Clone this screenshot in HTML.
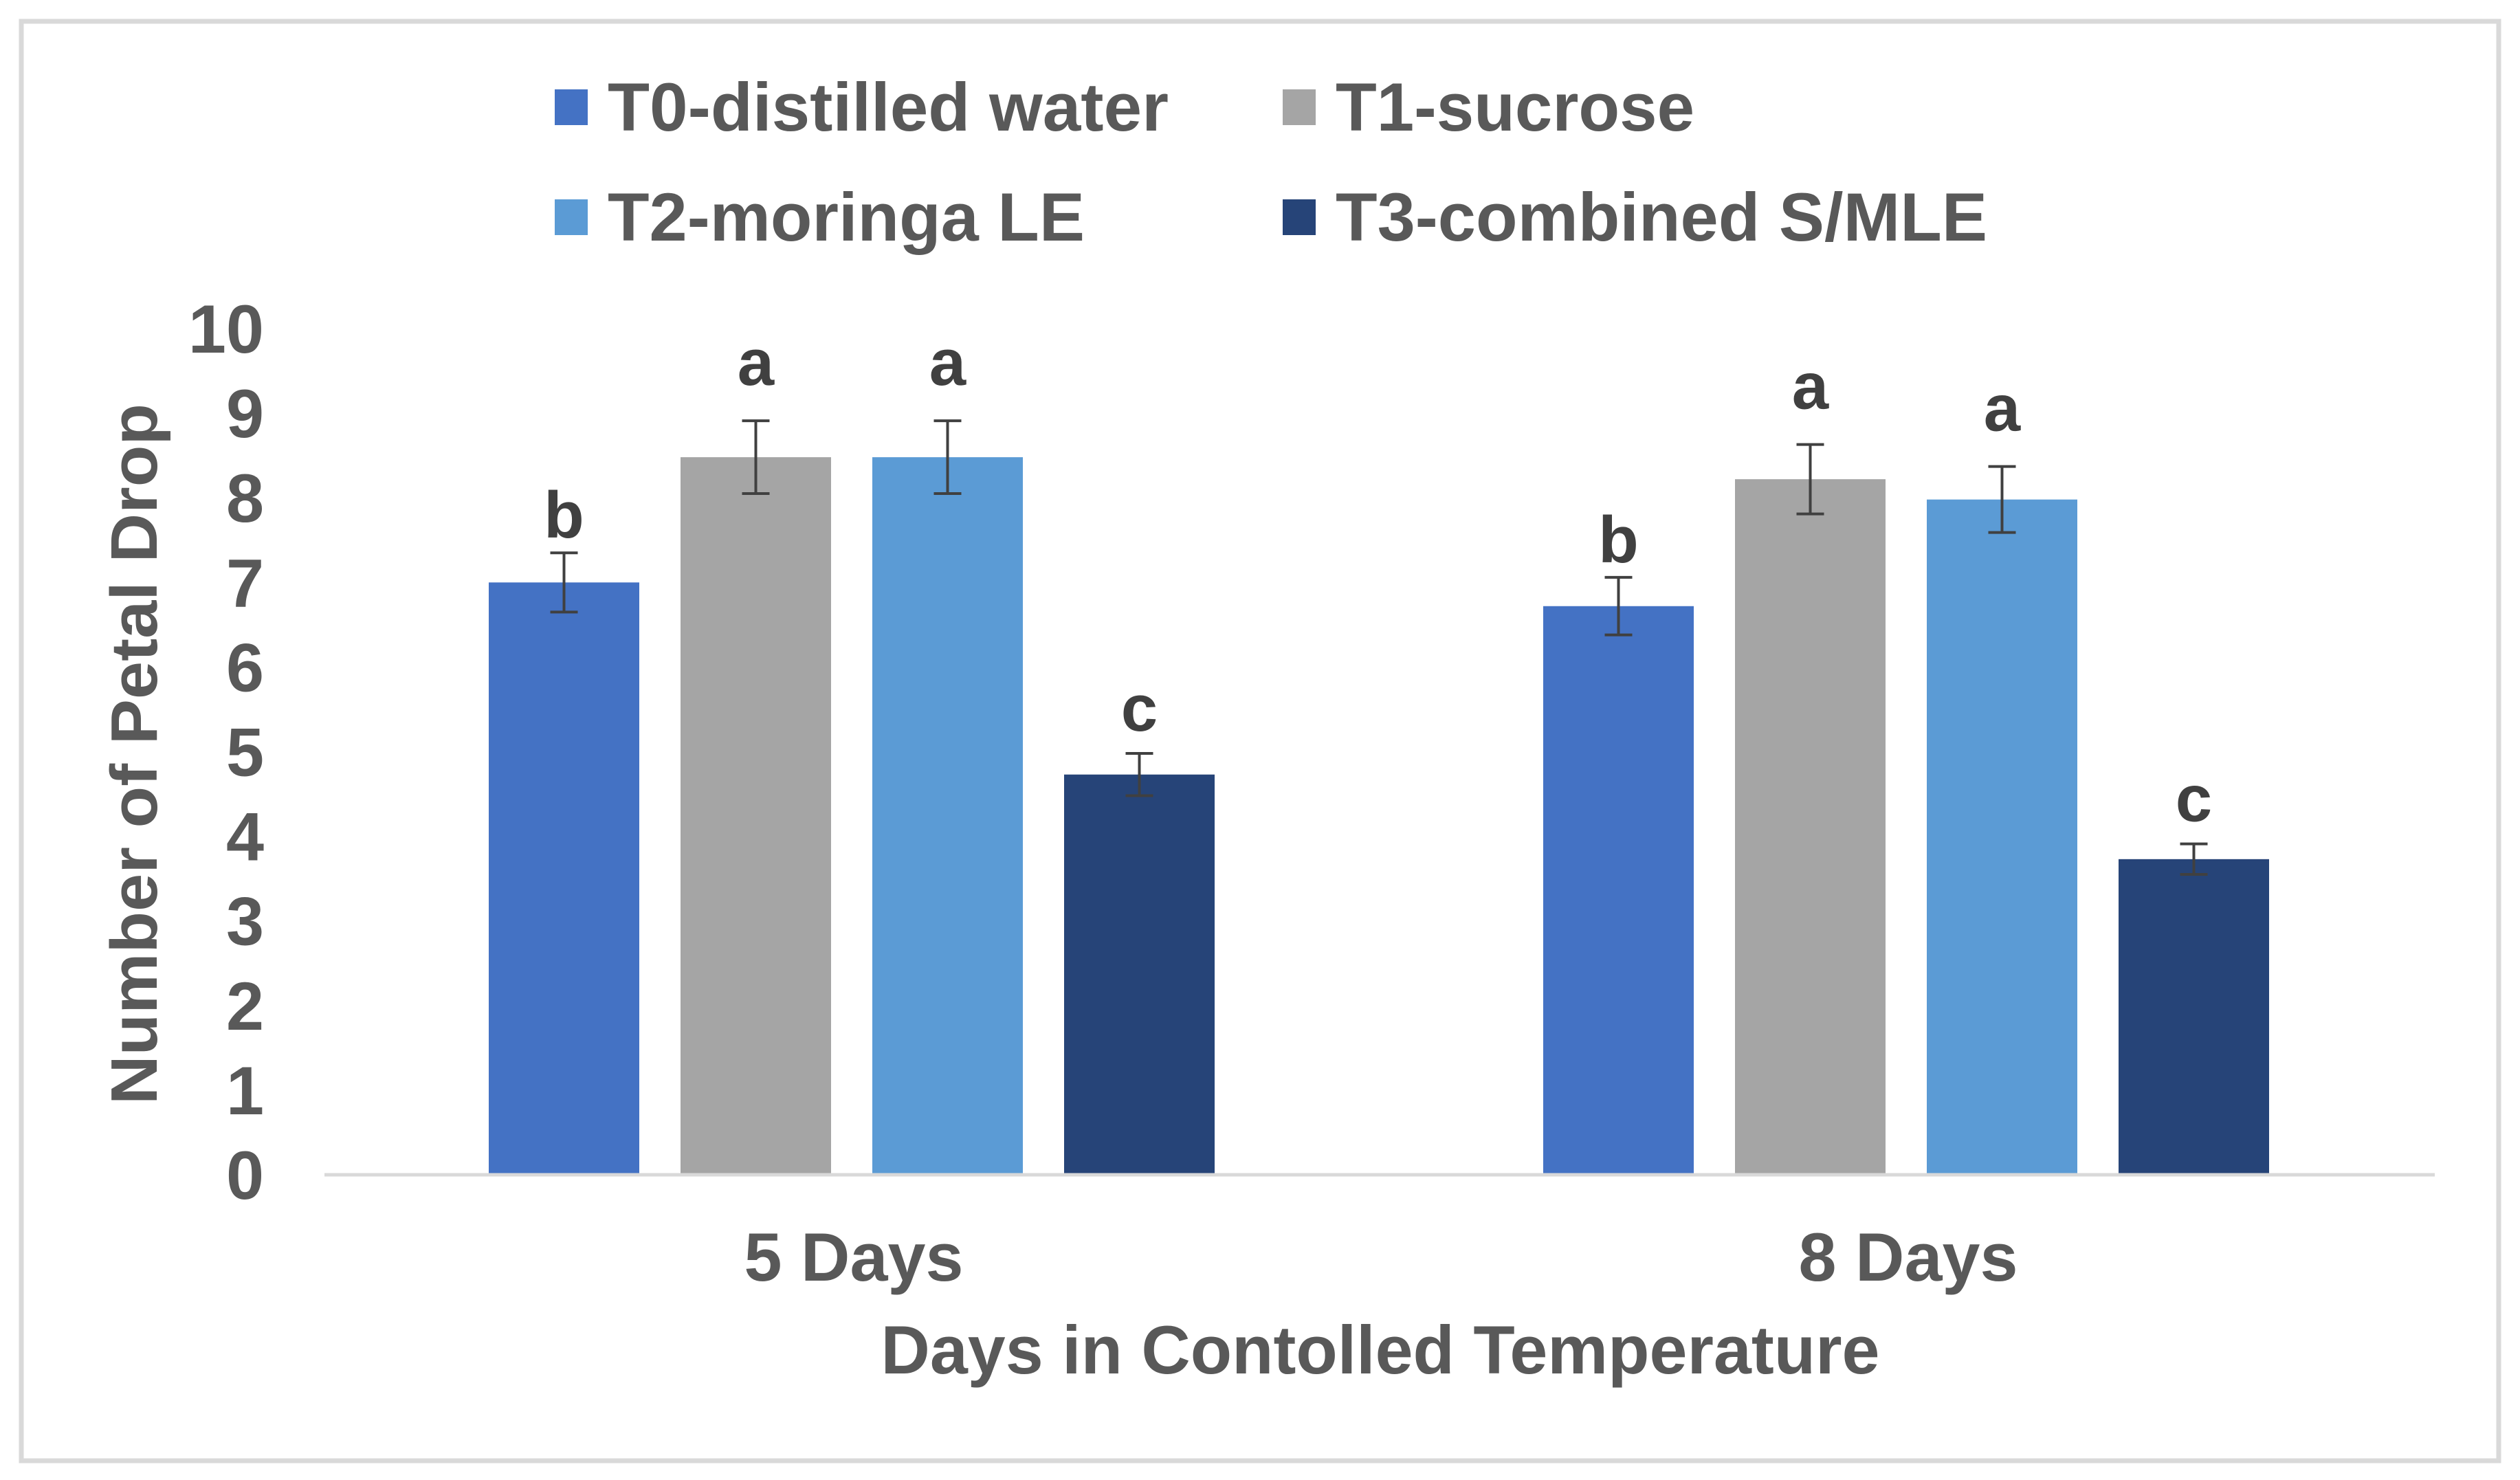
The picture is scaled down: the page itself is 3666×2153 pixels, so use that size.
<!DOCTYPE html>
<html><head><meta charset="utf-8"><style>
html,body{margin:0;padding:0;background:#fff}
svg{display:block}
text{font-family:"Liberation Sans",Arial,sans-serif;font-weight:bold;fill:#595959}
</style></head><body>
<svg id="chart" width="3666" height="2153" viewBox="0 0 3666 2153" xmlns="http://www.w3.org/2000/svg">
<rect x="31" y="31" width="3604" height="2094" fill="#fff" stroke="#d9d9d9" stroke-width="7"/>
<g id="legend"></g>
<g id="yaxis"></g>
<g id="bars"></g>
<line x1="472" y1="1709" x2="3542" y2="1709" stroke="#d9d9d9" stroke-width="5"/>
<g id="xaxis"></g>
<text transform="translate(228,1097) rotate(-90)" text-anchor="middle" font-size="96" textLength="1020" lengthAdjust="spacingAndGlyphs">Number of Petal Drop</text>
<text x="2008" y="1998" text-anchor="middle" font-size="99" textLength="1453" lengthAdjust="spacingAndGlyphs">Days in Contolled Temperature</text>
</svg>
<script>
const categories = ["5 Days", "8 Days"];
const seriesNames = ["T0-distilled water", "T1-sucrose", "T2-moringa LE", "T3-combined S/MLE"];
const t0Values = [7.0, 6.72];
const t1Values = [8.48, 8.22];
const t2Values = [8.48, 7.98];
const t3Values = [4.73, 3.73];
const t0Errors = [0.35, 0.34];
const t1Errors = [0.43, 0.41];
const t2Errors = [0.43, 0.39];
const t3Errors = [0.25, 0.18];
const t0Letters = ["b", "b"];
const t1Letters = ["a", "a"];
const t2Letters = ["a", "a"];
const t3Letters = ["c", "c"];
const yTicks = [0,1,2,3,4,5,6,7,8,9,10];

const NS = "http://www.w3.org/2000/svg";
const colors = ["#4472c4","#a5a5a5","#5b9bd5","#264478"];
const values = [t0Values,t1Values,t2Values,t3Values];
const errors = [t0Errors,t1Errors,t2Errors,t3Errors];
const letters = [t0Letters,t1Letters,t2Letters,t3Letters];
const letterGap = {a:52,b:22,c:33};
const y0 = 1709, unit = 123.1;
function yScale(v){ return y0 - v*unit; }
const groupCenters = [1239, 2773];
const pitch = 279, barW = 219;
function xBar(ci, si){ return groupCenters[ci] + (si-1.5)*pitch - barW/2; }
function mk(tag, attrs, parent){ const e=document.createElementNS(NS,tag); for(const k in attrs) e.setAttribute(k,attrs[k]); parent.appendChild(e); return e; }

const yaxis = document.getElementById('yaxis');
yTicks.forEach(t=>{
  const e = mk('text',{x:384,y:yScale(t)+35,'text-anchor':'end','font-size':99},yaxis);
  
  
  e.textContent = t;
});

const bars = document.getElementById('bars');
categories.forEach((c,ci)=>{
  values.forEach((vals,si)=>{
    const v = vals[ci], x = xBar(ci,si), cx = x+barW/2;
    const r = mk('rect',{x:x,y:yScale(v),width:barW,height:y0-yScale(v),fill:colors[si]},bars);
    
    
    const e = errors[si][ci], top = yScale(v+e), bot = yScale(v-e);
    const eb = mk('path',{d:`M${cx},${top}V${bot}M${cx-20},${top}H${cx+20}M${cx-20},${bot}H${cx+20}`,stroke:'#404040','stroke-width':4,fill:'none'},bars);
    
    
    const lt = letters[si][ci];
    const l = mk('text',{x:cx,y:top-(letterGap[lt]||35),'text-anchor':'middle','font-size':96},bars);
    
    
    l.style.fill='#404040';
    l.textContent = lt;
  });
});

const xaxis = document.getElementById('xaxis');
categories.forEach((c,ci)=>{
  const e = mk('text',{x:groupCenters[ci]+3,y:1863,'text-anchor':'middle','font-size':99,textLength:319,lengthAdjust:'spacingAndGlyphs'},xaxis);
  
  
  e.textContent = c;
});

const legend = document.getElementById('legend');
const legPos = [[807,884,190,816],[1866,1943,190,522],[807,884,350,694],[1866,1943,350,948]];
seriesNames.forEach((n,i)=>{
  const p = legPos[i];
  const s = mk('rect',{x:p[0],y:p[2]-60,width:48,height:52,fill:colors[i]},legend);
  
  
  const t = mk('text',{x:p[1],y:p[2],'font-size':99,textLength:p[3],lengthAdjust:'spacingAndGlyphs'},legend);
  
  
  t.textContent = n;
});
</script>
</body></html>
